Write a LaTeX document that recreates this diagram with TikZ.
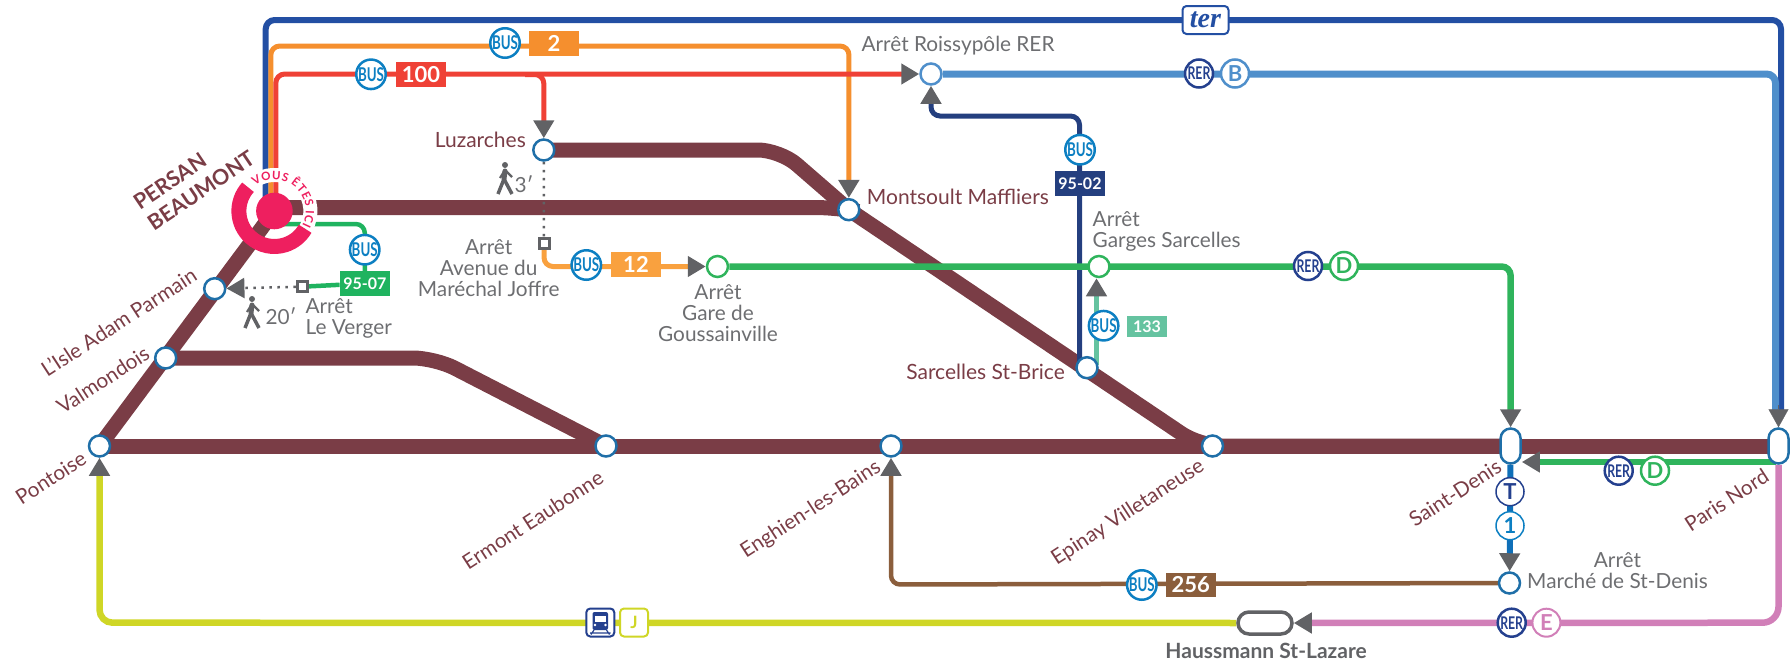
\documentclass[tikz,border=0pt]{standalone}
\usepackage{fontspec}
\setmainfont{Lato}
\newfontfamily\cond[FakeStretch=0.7]{Lato}
\newfontfamily\terfont{Liberation Serif}
\usetikzlibrary{arrows.meta,decorations.text}
\definecolor{maroon}{HTML}{7A3D46}
\definecolor{stb}{HTML}{1F6FA8}
\definecolor{arr}{HTML}{616265}
\definecolor{greytxt}{HTML}{6D6E71}
\definecolor{terblue}{HTML}{234FA3}
\definecolor{orangeA}{HTML}{F58F2E}
\definecolor{orangeB}{HTML}{F9A13F}
\definecolor{redA}{HTML}{EF4136}
\definecolor{blueB}{HTML}{4F8FCB}
\definecolor{navy}{HTML}{243F7F}
\definecolor{greenD}{HTML}{2FB45C}
\definecolor{greenE}{HTML}{1FB35F}
\definecolor{mint}{HTML}{65C3A0}
\definecolor{brownL}{HTML}{8B5E3C}
\definecolor{yellowJ}{HTML}{CFD626}
\definecolor{pinkE}{HTML}{D17FB8}
\definecolor{tram}{HTML}{0F6FB8}
\definecolor{busb}{HTML}{0C7FC2}
\definecolor{rerb}{HTML}{24408E}
\definecolor{vous}{HTML}{EE1F5F}
\pgfdeclarelayer{trunk}
\pgfdeclarelayer{lines}
\pgfsetlayers{trunk,lines,main}
\tikzset{
  stn/.style={circle,draw=stb,line width=2.5pt,fill=white,minimum size=21pt,inner sep=0pt},
  pill/.style={rectangle,rounded corners=10pt,draw=stb,line width=2.5pt,fill=white,minimum width=20pt,minimum height=35pt,inner sep=0pt},
  busbadge/.style={circle,draw=busb,line width=2.5pt,fill=white,minimum size=29pt,inner sep=0pt,text=busb,font=\cond\bfseries\fontsize{19}{19}\selectfont},
  rerbadge/.style={circle,draw=rerb,line width=2.5pt,fill=white,minimum size=28pt,inner sep=0pt,text=rerb,font=\cond\bfseries\fontsize{17.5}{17.5}\selectfont},
  letter/.style={circle,draw=#1,line width=2.5pt,fill=white,minimum size=28pt,inner sep=0pt,text=#1,font=\bfseries\fontsize{22}{22}\selectfont},
  numbox/.style={rectangle,fill=#1,text=white,minimum width=50pt,minimum height=24.5pt,inner sep=0pt,font=\bfseries\fontsize{22}{22}\selectfont},
  smallbox/.style={rectangle,fill=#1,text=white,minimum width=50pt,minimum height=24.5pt,inner sep=0pt,font=\bfseries\fontsize{16}{16}\selectfont},
  sq/.style={rectangle,draw=arr,line width=3pt,fill=white,minimum size=10pt,inner sep=0pt},
  stname/.style={text=maroon,font=\fontsize{21}{21}\selectfont,inner sep=0pt},
  rotname/.style={stname,font=\fontsize{20.7}{21}\selectfont,rotate=33},
  grey/.style={text=greytxt,font=\fontsize{20.8}{21}\selectfont,inner sep=0pt,align=center},
  greyl/.style={grey,align=left,anchor=west},
  trunkl/.style={draw=maroon,line width=15pt,rounded corners=22pt},
  conn/.style={draw=#1,line width=5pt,rounded corners=9pt},
  gtip/.style={-{Triangle[length=18pt,width=20pt,color=arr]}},
  dots/.style={draw=arr,line width=2.5pt,dash pattern=on 2.5pt off 5.5pt},
}
\newcommand{\walkfig}[2]{%
  \begin{scope}[shift={(#1,#2)}]
    \fill[arr] (0,3) circle[radius=3pt];
    \draw[arr,line width=5pt,line cap=round] (0,9) -- (-1,17);
    \draw[arr,line width=3.5pt] (-1,17) -- (-7,32);
    \draw[arr,line width=3.5pt] (-1,17) -- (7,32);
    \draw[arr,line width=2.2pt] (0,8) -- (7,15);
    \draw[arr,line width=2.2pt] (0,8) -- (-5,16);
  \end{scope}}
\begin{document}
\begin{tikzpicture}[x=1pt,y=-1pt]
\useasboundingbox (0,0) rectangle (1791,664);
% stations
\node[stn] (pontoise) at (99.5,446) {};
\node[stn] (valmondois) at (165.7,358) {};
\node[stn] (lisle) at (214.7,288.7) {};
\node[stn] (ermont) at (606,446) {};
\node[stn] (enghien) at (891,446) {};
\node[stn] (epinay) at (1212.5,446) {};
\node[pill] (saintdenis) at (1510.6,446) {};
\node[pill] (parisnord) at (1778.5,446) {};
\node[stn] (marche) at (1509.5,583) {};
\node[stn] (luz) at (543.8,150) {};
\node[stn] (montsoult) at (848.8,209.7) {};
\node[stn] (sarcelles) at (1087,367.7) {};
\node[stn,draw=blueB] (roissy) at (931,74) {};
\node[stn,draw=greenD] (garges) at (1099,266.5) {};
\node[stn,draw=greenD] (gouss) at (717.5,266.5) {};
\node[rectangle,rounded corners=11pt,draw=arr,line width=3.5pt,fill=white,minimum width=54pt,minimum height=22pt,inner sep=0pt] (haussmann) at (1265,623) {};
\node[sq] (sqa) at (544,243.7) {};
\node[sq] (sqb) at (302.3,286.7) {};
% free ends
\coordinate (terstart) at (265.7,200);
\coordinate (orstart) at (270.8,200);
\coordinate (redstart) at (275.8,200);
\coordinate (redbr) at (525,74.5);
\coordinate (gstart) at (280,224);
\coordinate (navystart) at (1079.5,362);
\coordinate (mintstart) at (1096.5,365);
\coordinate (dstart) at (1776,462);
\coordinate (arrpn) at (1778.5,405);
\coordinate (wedge) at (1200,446);
% badges
\node[busbadge] (bus2) at (505,43) {BUS};
\node[numbox=orangeA] (box2) at (554,43.5) {2};
\node[busbadge] (bus100) at (371,74.3) {BUS};
\node[numbox=redA] (box100) at (421,74.3) {100};
\node[busbadge] (bus12) at (586.3,265) {BUS};
\node[numbox=orangeB] (box12) at (636,264.5) {12};
\node[busbadge] (bus9507) at (364.7,249.7) {BUS};
\node[smallbox=greenE] (box9507) at (364.8,283.5) {95-07};
\node[busbadge] (bus9502) at (1080,149.7) {BUS};
\node[smallbox=navy] (box9502) at (1080,183.6) {95-02};
\node[busbadge] (bus133) at (1103.6,325.7) {BUS};
\node[smallbox=mint,minimum width=40pt,minimum height=21pt] (box133) at (1147,326.5) {133};
\node[busbadge] (bus256) at (1141.8,585) {BUS};
\node[numbox=brownL] (box256) at (1190.7,585) {256};
\node[rerbadge] (rerb) at (1199,73.5) {RER};
\node[letter=blueB] (lb) at (1235,73.5) {B};
\node[rerbadge] (rerd) at (1308,266) {RER};
\node[letter=greenD] (ld) at (1344,266) {D};
\node[rerbadge] (rerdd) at (1618.7,470.7) {RER};
\node[letter=greenD] (ldd) at (1655,470.7) {D};
\node[rerbadge] (rere) at (1511.7,622.7) {RER};
\node[letter=pinkE,line width=2pt] (le) at (1546.4,622.7) {E};
\node[letter=rerb,line width=1.5pt] (lt) at (1510,491.7) {T};
\node[letter=busb,line width=1.5pt] (lone) at (1510,525.7) {1};
\node[rectangle,rounded corners=4pt,draw=terblue,line width=2pt,fill=white,minimum width=46pt,minimum height=28pt,inner sep=0pt,text=terblue,font=\terfont\itshape\bfseries\fontsize{28}{28}\selectfont] (ter) at (1205.5,20) {ter};
\node[rectangle,rounded corners=4pt,draw=rerb,line width=2pt,fill=white,minimum width=28pt,minimum height=28pt,inner sep=0pt] (train) at (600.3,622.5) {};
\node[rectangle,rounded corners=4pt,draw=yellowJ,line width=2pt,fill=white,minimum width=28pt,minimum height=28pt,inner sep=0pt,text=yellowJ,font=\bfseries\fontsize{17}{17}\selectfont] (lj) at (634,622.5) {J};
% train icon
\fill[rerb,rounded corners=2pt] (592.5,612) rectangle (608,630);
\fill[white] (594.5,615.5) rectangle (606,622);
\fill[white] (595,625) circle[radius=1.3pt] (605.5,625) circle[radius=1.3pt];
\draw[rerb,line width=1.2pt] (594,630) -- (591,634.5) (606.5,630) -- (609.5,634.5) (590,633) -- (610.5,633);
% trunk
\begin{pgfonlayer}{trunk}
\draw[trunkl] (pontoise.center) -- (274.4,211);
\draw[trunkl] (pontoise.center) -- (parisnord.center);
\draw[trunkl] (valmondois.center) -- (435,358) -- (ermont.center);
\draw[trunkl] (274.4,207.5) -- (montsoult.west |- 0,207.5) -- (montsoult.center);
\draw[trunkl] (luz.center) -- (780,150) -- (montsoult.center);
\draw[trunkl] (montsoult.center) -- (wedge) -- (saintdenis.center);
\end{pgfonlayer}
% connectors
\begin{pgfonlayer}{lines}
\draw[conn=terblue,line width=6pt] (terstart) -- (265.7,20) -- (1781,20) -- (1781,410);
\draw[conn=blueB,line width=7pt] (roissy) -- (1775.5,74) -- (1775.5,410);
\draw[conn=orangeA,gtip] (orstart) -- (270.8,46) -- (849,46) -- (montsoult);
\draw[conn=redA,gtip] (redstart) |- (roissy);
\draw[conn=redA,gtip] (redbr) -| (luz);
\draw[conn=navy,gtip] (navystart) -- (1079.5,116) -- (931,116) -- (roissy);
\draw[conn=greenD,line width=6.5pt,gtip] (gouss) -| (saintdenis);
\draw[conn=mint,gtip] (mintstart) -- (mintstart |- garges.south);
\draw[conn=orangeB,gtip] (sqa) |- (gouss);
\draw[conn=greenE,line width=4.5pt] (gstart) -| (box9507);
\draw[conn=greenE,line width=4.5pt] (box9507) -- (sqb);
\draw[conn=brownL,line width=4.5pt,gtip] (marche) -- (891,584.5) -- (enghien);
\draw[conn=yellowJ,line width=6.5pt,rounded corners=13pt,gtip] (haussmann) -- (99.5,622.7) -- (pontoise);
\draw[conn=pinkE,line width=6.5pt,rounded corners=16pt,gtip] (parisnord) -- (1778.5,622.7) -- (haussmann);
\draw[conn=greenD,line width=6.5pt,gtip] (dstart) -- (dstart -| saintdenis.east);
\draw[conn=tram,line width=6pt,gtip] (saintdenis) -- (marche);
\draw[draw=arr,line width=.3pt,gtip] (arrpn) -- (parisnord);
\draw[dots] (luz) -- (sqa);
\draw[dots,gtip] (sqb) -- (lisle);
\end{pgfonlayer}
% Persan Beaumont mark
\coordinate (pc) at (274.4,211);
\draw[white,line width=14pt] ([shift={(130:36pt)}]pc) arc[start angle=130,end angle=-30,radius=36pt];
\draw[vous,line width=15pt] ([shift={(138:35.5pt)}]pc) arc[start angle=138,end angle=330,radius=35.5pt];
\path[decorate,decoration={text along path,text align={fit to path},text={|\bfseries\fontsize{11.5}{11.5}\selectfont\color{vous}|VOUS ÊTES ICI}}] ([shift={(128:31.5pt)}]pc) arc[start angle=128,end angle=-28,radius=31.5pt];
\node[circle,fill=vous,minimum size=36.6pt,inner sep=0pt] (persan) at (pc) {};
% walkers
\walkfig{505}{162}
\walkfig{252}{296}
% labels
\node[text=maroon,font=\bfseries\fontsize{21.4}{25}\selectfont,rotate=34,align=left,inner sep=0pt] (persanlabel) at (194,180) {PERSAN\\BEAUMONT};
\node[rotname] (n1) at (118.6,322) {L'Isle Adam Parmain};
\node[rotname] (n2) at (103,380) {Valmondois};
\node[rotname] (n3) at (50.8,478) {Pontoise};
\node[rotname] (n4) at (532.7,520) {Ermont Eaubonne};
\node[rotname] (n5) at (811,510) {Enghien-les-Bains};
\node[rotname] (n6) at (1128,512.5) {Epinay Villetaneuse};
\node[rotname] (n7) at (1455,493) {Saint-Denis};
\node[rotname] (n8) at (1726.5,500) {Paris Nord};
\node[stname,anchor=east] (n9) at (526,140) {Luzarches};
\node[stname,anchor=west] (n10) at (866.7,196.7) {Montsoult Maffliers};
\node[stname,anchor=east] (n11) at (1065,371.7) {Sarcelles St-Brice};
\node[greyl] (g1) at (861.4,46) {Arrêt Roissypôle RER};
\node[grey] (g2) at (488.7,268.5) {Arrêt\\Avenue du\\Maréchal Joffre};
\node[grey] (g3) at (718,313.5) {Arrêt\\Gare de\\Goussainville};
\node[greyl] (g4) at (1092.5,231) {Arrêt\\Garges Sarcelles};
\node[greyl] (g5) at (305.4,318) {Arrêt\\Le Verger};
\node[grey] (g6) at (1617.5,571) {Arrêt\\Marché de St-Denis};
\node[grey] (t3) at (524,184) {3′};
\node[grey] (t20) at (281,316.7) {20′};
\node[text=arr,font=\bfseries\fontsize{21}{21}\selectfont,inner sep=0pt] (hl) at (1266,650.7) {Haussmann St-Lazare};
\end{tikzpicture}
\end{document}
